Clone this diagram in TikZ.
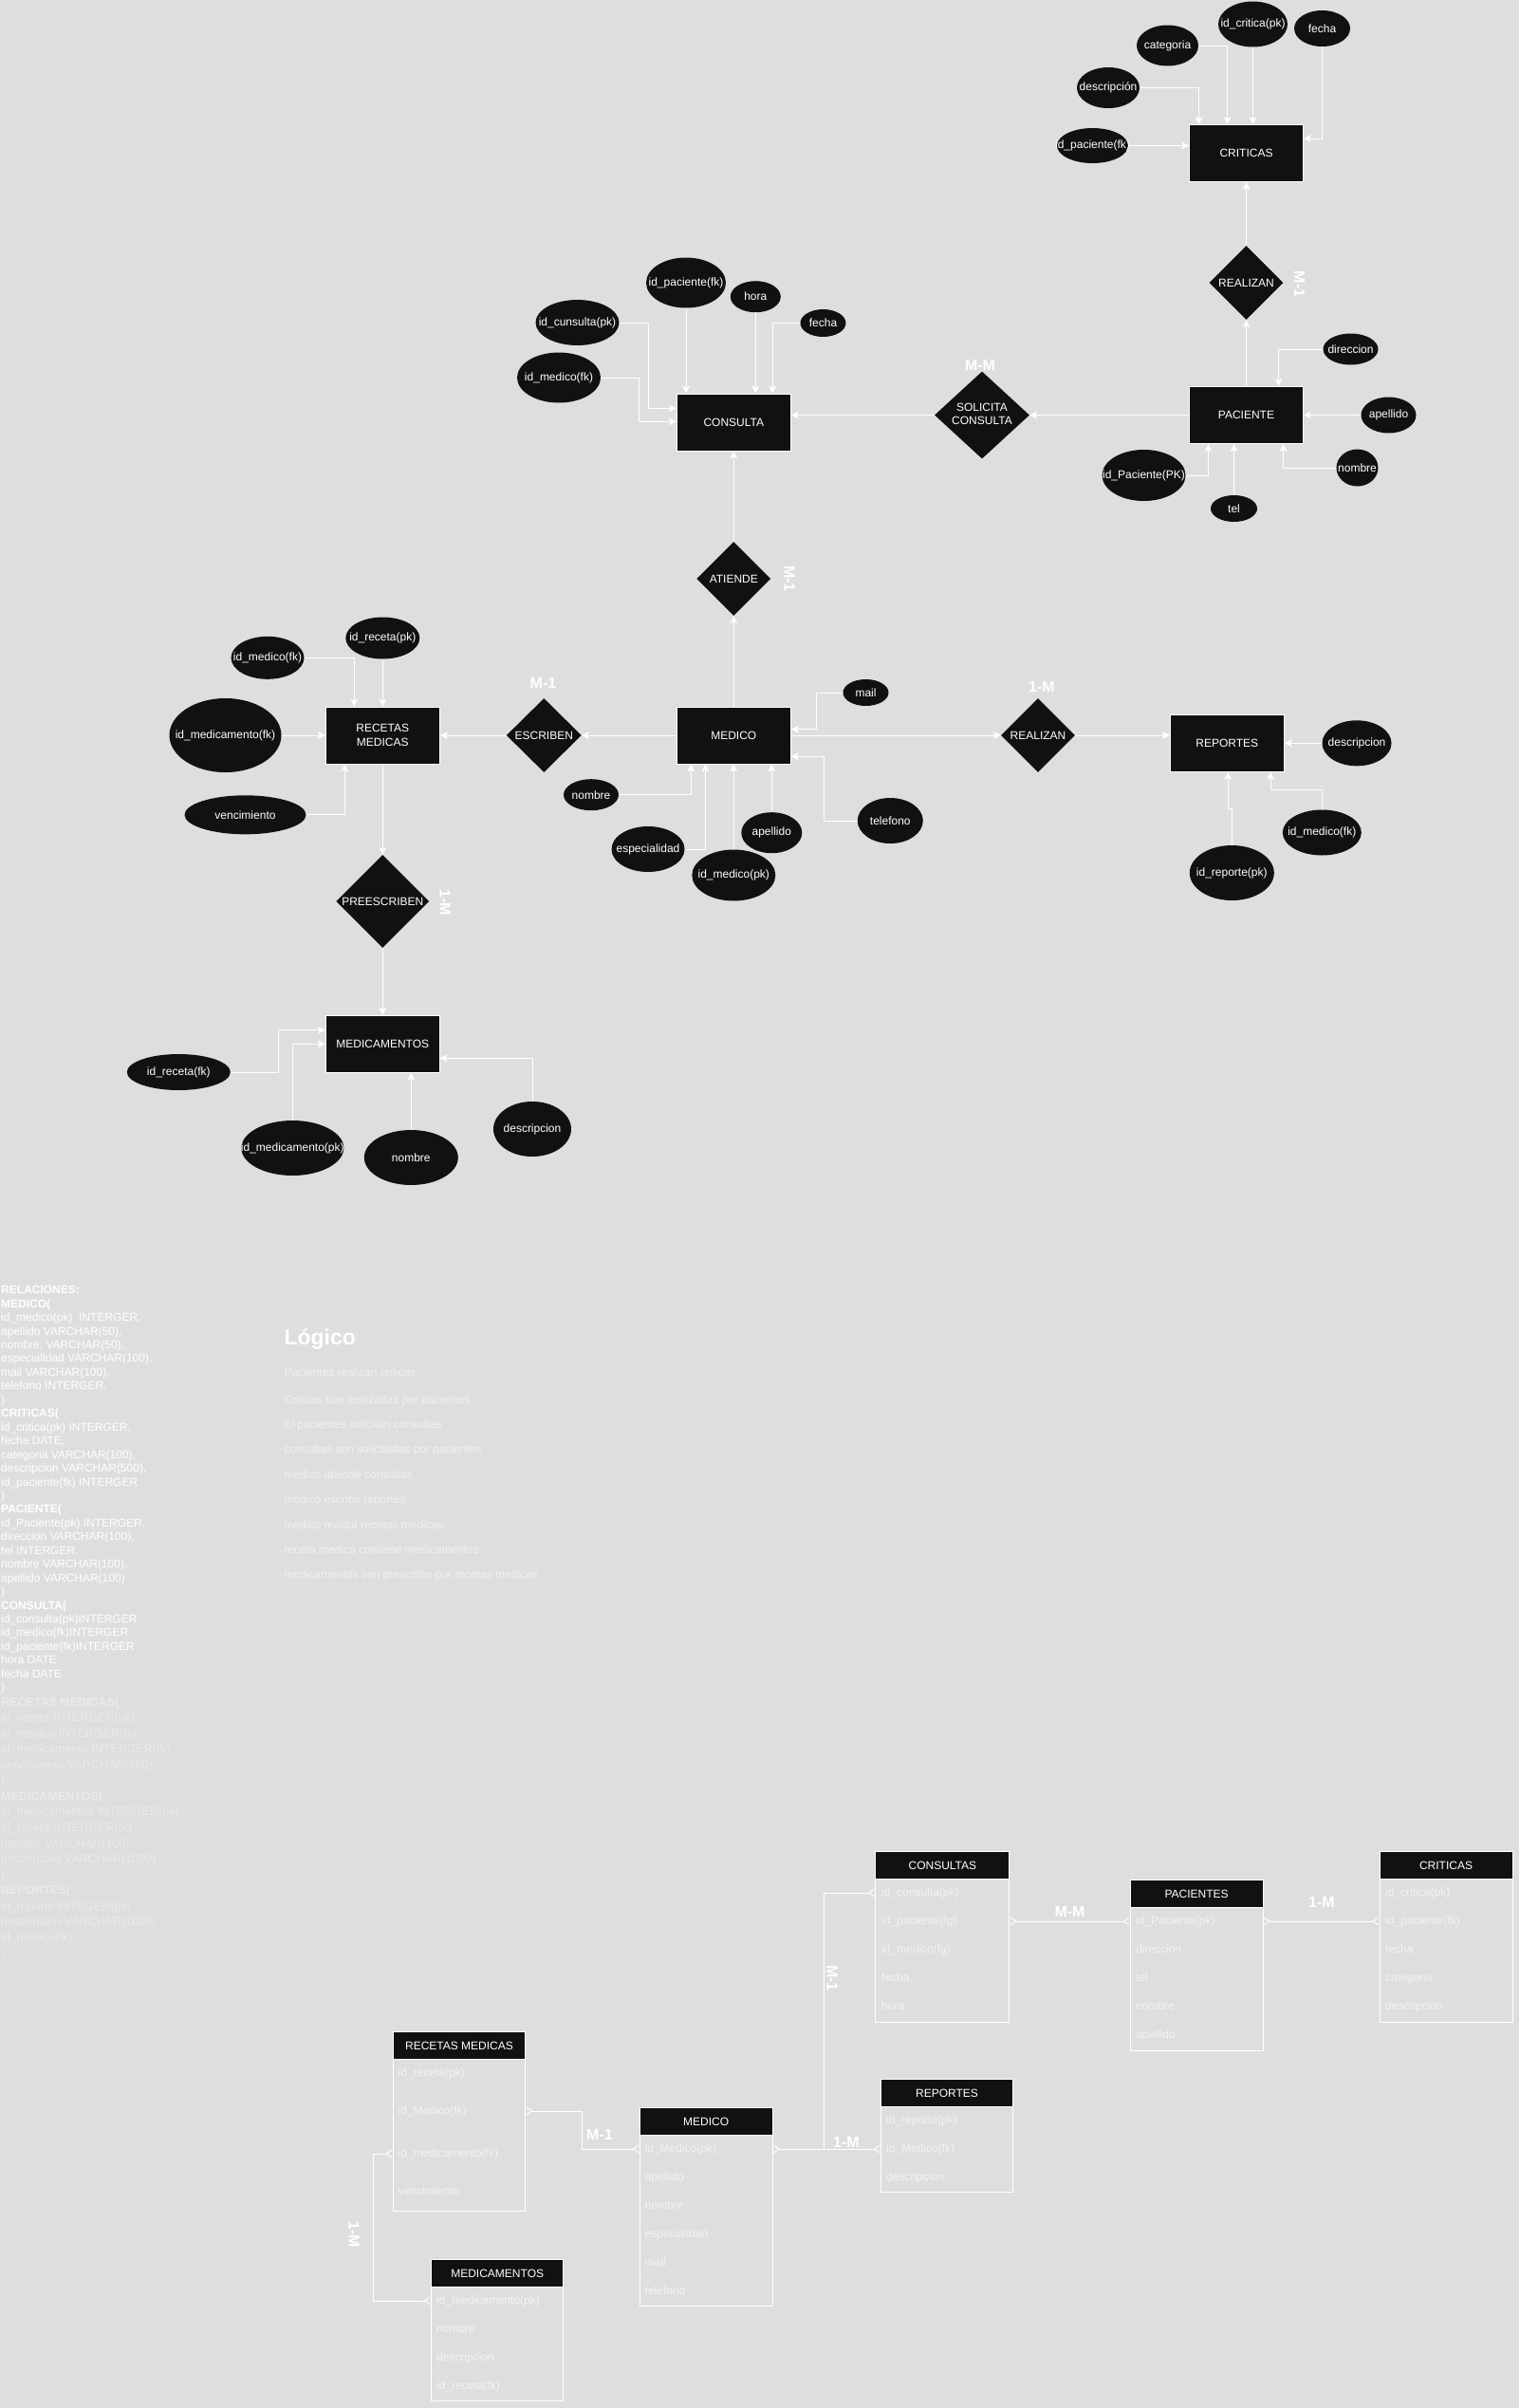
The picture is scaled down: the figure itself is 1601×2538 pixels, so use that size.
\documentclass[tikz,border=0pt]{standalone}
\usepackage{fontspec}
\setmainfont{Liberation Sans}
\usetikzlibrary{shapes.geometric,arrows.meta}
\definecolor{bg}{HTML}{DEDEDE}
\definecolor{nf}{HTML}{111111}
\definecolor{fa}{HTML}{EAEAEA}
\definecolor{fb}{HTML}{F1F1F1}
\definecolor{rowc}{HTML}{F3F3F3}
\newcommand\zw[1]{\makebox[0pt][c]{#1}}
\newcommand\ftw{\fontsize{12}{14.6}\selectfont}
\begin{document}
\begin{tikzpicture}[x=1pt,y=-1pt,
 ent/.style={rectangle, draw=white, line width=1pt, fill=nf, text=white, minimum width=120pt, minimum height=60pt, inner sep=0pt, align=center, font=\fontsize{12}{15.3}\selectfont},
 att/.style 2 args={ellipse, fill=nf, text=white, inner sep=0pt, minimum width=#1pt, minimum height=#2pt, font=\ftw},
 rel/.style 2 args={diamond, fill=nf, text=white, inner sep=0pt, minimum width=#1pt, minimum height=#2pt, font=\ftw},
 arr/.style={draw=white, line width=1pt, -{Stealth[length=8pt,width=8pt,inset=2pt]}},
 card/.style={text=white, inner sep=0pt, font=\bfseries\fontsize{16}{19}\selectfont},
 vcard/.style={card, rotate=-90},
 rl/.style={anchor=west, inner sep=0pt, text=white, font=\ftw, text height=9pt, text depth=3pt},
 rlb/.style={anchor=west, inner sep=0pt, text=fa, font=\fontsize{12.5}{15}\selectfont, text height=9pt, text depth=3pt},
 lgl/.style={anchor=west, inner sep=0pt, text=fb, font=\ftw, text height=9pt, text depth=3pt},
 thead/.style={rectangle, draw=white, line width=1pt, fill=nf, text=white, inner sep=0pt, font=\ftw, anchor=north west},
 tbody/.style={rectangle, draw=white, line width=1pt, inner sep=0pt, anchor=north west},
 trow/.style={anchor=west, inner sep=0pt, text=rowc, font=\ftw, text height=9pt, text depth=3pt},
 crow/.style={draw=white, line width=1pt, {Straight Barb[reversed,length=6pt,width=8pt]}-{Straight Barb[reversed,length=6pt,width=8pt]}},
 crowE/.style={draw=white, line width=1pt, -{Straight Barb[reversed,length=6pt,width=8pt]}}
]
\useasboundingbox (0,0) rectangle (1601,2538);
\fill[bg] (0,0) rectangle (1601,2538);

% ---------------- CRITICAS ----------------
\node[ent] (crit) at (1313.5,161.5) {CRITICAS};
\node[att={65}{43}] (cat) at (1230.5,48) {\zw{categoria}};
\node[att={73}{48}] (idc) at (1320.5,25.5) {\zw{id\_critica(pk)}};
\node[att={59}{38}] (fec1) at (1393.5,30) {\zw{fecha}};
\node[att={66}{43}] (desc1) at (1168,92.5) {\zw{descripción}};
\node[att={75}{37}] (idpf) at (1151.5,153.5) {\zw{id\_paciente(fk)}};
\draw[arr] (cat.east) -| ([xshift=-20pt]crit.north);
\draw[arr] (idc.south) -- (idc.south |- crit.north);
\draw[arr] (desc1.east) -| ([xshift=-50pt]crit.north);
\draw[arr] (fec1.south) |- ([yshift=15.5pt]crit.east);
\draw[arr] (idpf.east) -- (crit.west |- idpf.east);

\node[rel={78}{78}] (real1) at (1313.5,298) {\zw{REALIZAN}};
\node[vcard] (c1) at (1369.5,299.5) {M-1};
\draw[arr] (real1.north) -- (crit.south);

% ---------------- PACIENTE ----------------
\node[ent] (pac) at (1313.5,437.5) {PACIENTE};
\draw[arr] (pac.north) -- (real1.south);
\node[att={58}{33}] (dir) at (1423.5,368) {\zw{direccion}};
\node[att={58}{38}] (ape1) at (1463.5,437.5) {\zw{apellido}};
\node[att={44}{39}] (nom1) at (1430.5,493) {\zw{nombre}};
\node[att={49}{28}] (tel) at (1300.5,536) {\zw{tel}};
\node[att={88}{54}] (idp) at (1205.5,501) {\zw{id\_Paciente(PK)}};
\draw[arr] (dir.west) -| ([xshift=34pt]pac.north);
\draw[arr] (ape1.west) -- (pac.east |- ape1.west);
\draw[arr] (nom1.west) -| ([xshift=39pt]pac.south);
\draw[arr] (tel.north) -- (tel.north |- pac.south);
\draw[arr] (idp.east) -| ([xshift=-40pt]pac.south);

\node[rel={100}{92}] (sol) at (1035,437.5) {\zw{\begin{tabular}{@{}c@{}}SOLICITA\\CONSULTA\end{tabular}}};
\node[card] (c2) at (1033,385) {M-M};
\draw[arr] (pac.west) -- (sol.east);

% ---------------- CONSULTA ----------------
\node[ent] (cons) at (773.3,445) {CONSULTA};
\draw[arr] (sol.west) -- (cons.east |- sol.west);
\node[att={84}{53}] (ipf) at (723,298) {\zw{id\_paciente(fk)}};
\node[att={53}{33}] (hora) at (796.3,312.7) {\zw{hora}};
\node[att={48}{29}] (fec2) at (867.5,340.5) {\zw{fecha}};
\node[att={88}{48}] (icp) at (608.5,340) {\zw{id\_cunsulta(pk)}};
\node[att={88}{53}] (imf) at (589,398) {\zw{id\_medico(fk)}};
\draw[arr] (ipf.south) -- (ipf.south |- cons.north);
\draw[arr] (hora.south) -- (hora.south |- cons.north);
\draw[arr] (fec2.west) -| ([xshift=41pt]cons.north);
\draw[arr] (icp.east) -| (683.3,430.3) -- (cons.west |- 0,430.3);
\draw[arr] (imf.east) -| (673.3,444.3) -- (cons.west |- 0,444.3);

\node[rel={78}{78}] (ati) at (773.3,610) {\zw{ATIENDE}};
\node[vcard] (c3) at (832,610) {M-1};
\draw[arr] (ati.north) -- (cons.south);

% ---------------- MEDICO ----------------
\node[ent] (med) at (773.3,775) {MEDICO};
\draw[arr] (med.north) -- (ati.south);
\node[att={48}{28}] (mail) at (912.5,730) {\zw{mail}};
\node[att={69}{48}] (telf) at (938.3,865) {\zw{telefono}};
\node[att={58}{33}] (nom2) at (623,837.7) {\zw{nombre}};
\node[att={77}{48}] (esp) at (683,895) {\zw{especialidad}};
\node[att={88}{54}] (idm) at (773.3,922.5) {\zw{id\_medico(pk)}};
\node[att={64}{43}] (ape2) at (813.3,877.7) {\zw{apellido}};
\draw[arr] (mail.west) -| (860,768.7) -- (med.east |- 0,768.7);
\draw[arr] (telf.west) -| (868.3,797.3) -- (med.east |- 0,797.3);
\draw[arr] (nom2.east) -| ([xshift=-45pt]med.south);
\draw[arr] (esp.east) -| ([xshift=-30pt]med.south);
\draw[arr] (idm.north) -- (idm.north |- med.south);
\draw[arr] (ape2.north) -- (ape2.north |- med.south);

\node[rel={79}{78}] (esc) at (573.3,775) {\zw{ESCRIBEN}};
\node[card] (c4) at (572.5,720) {M-1};
\draw[arr] (med.west) -- (esc.east);

\node[rel={78}{78}] (real2) at (1094,775) {\zw{REALIZAN}};
\node[card] (c5) at (1098,724) {1-M};
\draw[arr] (med.east) -- (real2.west);

% ---------------- REPORTES ----------------
\node[ent] (rep) at (1293.3,783.3) {REPORTES};
\draw[arr] (real2.east) -- (rep.west |- real2.east);
\node[att={73}{48}] (desc2) at (1430,783.3) {\zw{descripcion}};
\node[att={83}{48}] (imfk) at (1393.3,877.5) {\zw{id\_medico(fk)}};
\node[att={89}{58}] (idr) at (1298.3,920) {\zw{id\_reporte(pk)}};
\draw[arr] (desc2.west) -- (rep.east |- desc2.west);
\draw[arr] (imfk.north) |- (1339,832.7) -- (rep.south -| 1339,0);
\draw[arr] (idr.north) |- (1294,852.3) -- (rep.south -| 1294,0);

% ---------------- RECETAS MEDICAS ----------------
\node[ent] (rec) at (403.3,775) {RECETAS\\MEDICAS};
\draw[arr] (esc.west) -- (rec.east);
\node[att={77}{45}] (imf2) at (282,693.3) {\zw{id\_medico(fk)}};
\node[att={78}{44}] (irp) at (403.3,672.5) {\zw{id\_receta(pk)}};
\node[att={118}{78}] (imdf) at (237.5,775) {\zw{id\_medicamento(fk)}};
\node[att={128}{41}] (venc) at (258.5,858.8) {\zw{vencimiento}};
\draw[arr] (imf2.east) -| ([xshift=-30pt]rec.north);
\draw[arr] (irp.south) -- (irp.south |- rec.north);
\draw[arr] (imdf.east) -- (rec.west);
\draw[arr] (venc.east) -| ([xshift=-40pt]rec.south);

\node[rel={98}{98}] (pre) at (403.3,950) {\zw{PREESCRIBEN}};
\node[vcard] (c6) at (469,951) {1-M};
\draw[arr] (rec.south) -- (pre.north);

% ---------------- MEDICAMENTOS ----------------
\node[ent] (medi) at (403.3,1100.3) {MEDICAMENTOS};
\draw[arr] (pre.south) -- (medi.north);
\node[att={109}{38}] (irf) at (188.3,1130) {\zw{id\_receta(fk)}};
\node[att={108}{58}] (impk) at (308.3,1210) {\zw{id\_medicamento(pk)}};
\node[att={99}{58}] (nom3) at (433.3,1220) {\zw{nombre}};
\node[att={82}{58}] (desc3) at (561,1190) {\zw{descripcion}};
\draw[arr] (irf.east) -| (293.3,1085.7) -- (medi.west |- 0,1085.7);
\draw[arr] (impk.north) |- (medi.west);
\draw[arr] (nom3.north) -- (nom3.north |- medi.south);
\draw[arr] (desc3.north) |- (medi.east |- 0,1115.3);

% ---------------- RELACIONES text ----------------
\foreach \i/\t in {0/{\textbf{RELACIONES:}}, 1/{\textbf{MEDICO(}}, 2/{id\_medico(pk)\ \ INTERGER,}, 3/{apellido VARCHAR(50),}, 4/{nombre, VARCHAR(50),}, 5/{especialidad VARCHAR(100),}, 6/{mail VARCHAR(100),}, 7/{telefono INTERGER,}, 8/{)}, 9/{\textbf{CRITICAS(}}, 10/{id\_critica(pk) INTERGER,}, 11/{fecha DATE,}, 12/{categoria VARCHAR(100),}, 13/{descripcion VARCHAR(500),}, 14/{id\_paciente(fk) INTERGER}, 15/{)}, 16/{\textbf{PACIENTE(}}, 17/{id\_Paciente(pk) INTERGER,}, 18/{direccion VARCHAR(100),}, 19/{tel INTERGER,}, 20/{nombre VARCHAR(100),}, 21/{apellido VARCHAR(100)}, 22/{)}, 23/{\textbf{CONSULTA(}}, 24/{id\_consulta(pk)INTERGER}, 25/{id\_medico(fk)INTERGER}, 26/{id\_paciente(fk)INTERGER}, 27/{hora DATE}, 28/{fecha DATE}, 29/{)}}
  \node[rl] (ra\i) at (1,{1360.7+14.45*\i}) {\t};
\foreach \i/\t in {0/{\textbf{RECETAS MEDICAS(}}, 1/{id\_receta INTERGER(pk)}, 2/{id\_medico INTERGER(fk)}, 3/{id\_medicamento INTERGER(fk)}, 4/{vencimiento VARCHAR(100)}, 5/{)}, 6/{\textbf{MEDICAMENTOS(}}, 7/{id\_medicamentos INTERGER(pk)}, 8/{id\_receta INTERGER(fk)}, 9/{nombre VARCHAR(100)}, 10/{descripción VARCHAR(1000)}, 11/{)}, 12/{\textbf{REPORTES(}}, 13/{id\_reporte INTEGER(pk)}, 14/{descripcion VARCHAR(1000)}, 15/{id\_medico(fk)}, 16/{)}}
  \node[rlb] (rb\i) at (1,{1795+16.56*\i}) {\t};

% ---------------- Logico ----------------
\node[anchor=base west, inner sep=0pt, text=white, font=\bfseries\fontsize{23}{27}\selectfont] (lg) at (299.3,1417.3) {Lógico};
\node[lgl] (lg1) at (299.3,1447.7) {Pacientes realizan criticas};
\node[lgl] (lg2) at (299.3,1476.7) {Criticas son realizadas por pacientes};
\node[lgl] (lg3) at (299.3,1502.7) {El pacientes solicitan consultas};
\node[lgl] (lg4) at (299.3,1528.7) {consultas son solicitadas por pacientes};
\node[lgl] (lg5) at (299.3,1555.3) {medico atiende consultas};
\node[lgl] (lg6) at (299.3,1581.7) {medico escribe reportes};
\node[lgl] (lg7) at (299.3,1608.7) {medico realiza recetas medicas};
\node[lgl] (lg8) at (299.3,1634.3) {receta medica contiene medicamentos};
\node[lgl] (lg9) at (299.3,1660.7) {medicamentos son prescritos por recetas medicas};

% ---------------- Tables ----------------
% CONSULTAS
\node[thead, minimum width=141pt, minimum height=29.3pt] (tcH) at (922.4,1950.7) {CONSULTAS};
\node[tbody, minimum width=141pt, minimum height=150.7pt] (tcB) at (922.4,1980) {};
\node[trow] (tc1) at (929,1995) {id\_consulta(pk)};
\node[trow] (tc2) at (929,2025) {id\_paciente(fg)};
\node[trow] (tc3) at (929,2055) {id\_medico(fg)};
\node[trow] (tc4) at (929,2085) {fecha};
\node[trow] (tc5) at (929,2115) {hora};
% PACIENTES
\node[thead, minimum width=140pt, minimum height=29.3pt] (tpH) at (1190.6,1980.7) {PACIENTES};
\node[tbody, minimum width=140pt, minimum height=150.7pt] (tpB) at (1190.6,2010) {};
\node[trow] (tp1) at (1197,2025) {id\_Paciente(pk)};
\node[trow] (tp2) at (1197,2055) {direccion};
\node[trow] (tp3) at (1197,2085) {tel};
\node[trow] (tp4) at (1197,2115) {nombre};
\node[trow] (tp5) at (1197,2145) {apellido};
% CRITICAS
\node[thead, minimum width=140pt, minimum height=29.3pt] (tkH) at (1453.5,1950.7) {CRITICAS};
\node[tbody, minimum width=140pt, minimum height=150.7pt] (tkB) at (1453.5,1980) {};
\node[trow] (tk1) at (1460,1995) {id\_critica(pk)};
\node[trow] (tk2) at (1460,2025) {id\_paciente(fk)};
\node[trow] (tk3) at (1460,2055) {fecha};
\node[trow] (tk4) at (1460,2085) {categoria};
\node[trow] (tk5) at (1460,2115) {descripcion};
% RECETAS MEDICAS
\node[thead, minimum width=139.6pt, minimum height=29.3pt] (trcH) at (413.7,2140.7) {RECETAS MEDICAS};
\node[tbody, minimum width=139.6pt, minimum height=160pt] (trcB) at (413.7,2170) {};
\node[trow] (trc1) at (419.5,2185) {id\_receta(pk)};
\node[trow] (trc2) at (419.5,2225) {id\_Medico(fk)};
\node[trow] (trc3) at (419.5,2270) {id\_medicamento(fk)};
\node[trow] (trc4) at (419.5,2310) {vencimiento};
% MEDICO
\node[thead, minimum width=140pt, minimum height=29.3pt] (tmH) at (673.6,2220.7) {MEDICO};
\node[tbody, minimum width=140pt, minimum height=180pt] (tmB) at (673.6,2250) {};
\node[trow] (tm1) at (679.5,2265) {id\_Medico(pk)};
\node[trow] (tm2) at (679.5,2295) {apellido};
\node[trow] (tm3) at (679.5,2325) {nombre};
\node[trow] (tm4) at (679.5,2355) {especialidad};
\node[trow] (tm5) at (679.5,2385) {mail};
\node[trow] (tm6) at (679.5,2415) {telefono};
% REPORTES
\node[thead, minimum width=139pt, minimum height=29.3pt] (trH) at (928,2190.7) {REPORTES};
\node[tbody, minimum width=139pt, minimum height=90pt] (trB) at (928,2220) {};
\node[trow] (tr1) at (934,2235) {id\_reporte(pk)};
\node[trow] (tr2) at (934,2265) {id\_Medico(fk)};
\node[trow] (tr3) at (934,2295) {descripcion};
% MEDICAMENTOS
\node[thead, minimum width=139.2pt, minimum height=29.3pt] (tdH) at (454.1,2380.7) {MEDICAMENTOS};
\node[tbody, minimum width=139.2pt, minimum height=120pt] (tdB) at (454.1,2410) {};
\node[trow] (td1) at (460,2425) {id\_medicamento(pk)};
\node[trow] (td2) at (460,2455) {nombre};
\node[trow] (td3) at (460,2485) {descripcion};
\node[trow] (td4) at (460,2515) {id\_receta(fk)};

% table connectors
\draw[crow] (tcB.east |- tc2) -- (tpB.west |- tp1);
\draw[crow] (tpB.east |- tp1) -- (tkB.west |- tk2);
\draw[crow] (tmB.east |- tm1) -- (trB.west |- tr2);
\coordinate (jn) at (868.3,2265);
\draw[crowE] (jn) |- (tcB.west |- tc1);
\draw[crow] (trcB.east |- trc2) -| (613,2265) -- (tmB.west |- tm1);
\draw[crow] (trcB.west |- trc3) -| (393,2425) -- (tdB.west |- td1);

\node[card] (c7) at (1127.5,2015) {M-M};
\node[card] (c8) at (1393,2005) {1-M};
\node[card] (c9) at (632,2250) {M-1};
\node[card] (c10) at (892,2258) {1-M};
\node[vcard] (c11) at (877,2085) {M-1};
\node[vcard] (c12) at (373,2355) {1-M};
\end{tikzpicture}
\end{document}
